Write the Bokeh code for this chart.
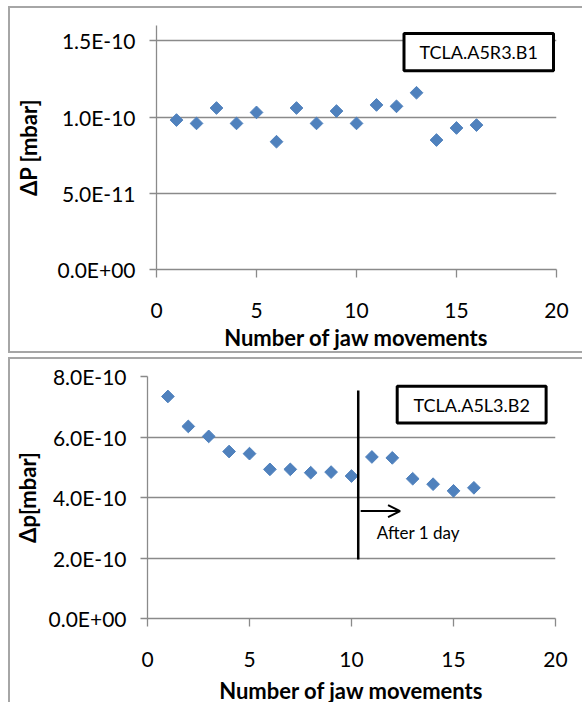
from bokeh.plotting import figure
from bokeh.models import Range1d, FixedTicker, BoxAnnotation, Label, Arrow, OpenHead, Spacer
from bokeh.layouts import column, row
from bokeh.embed import file_html
from bokeh.resources import INLINE

# ---- data ----
moves = list(range(1, 17))
dp_a5r3 = [0.980e-10, 0.958e-10, 1.059e-10, 0.958e-10, 1.030e-10, 0.838e-10,
           1.059e-10, 0.958e-10, 1.039e-10, 0.958e-10, 1.079e-10, 1.070e-10,
           1.159e-10, 0.849e-10, 0.928e-10, 0.947e-10]
dp_a5l3 = [7.34e-10, 6.35e-10, 6.02e-10, 5.52e-10, 5.45e-10, 4.93e-10,
           4.93e-10, 4.82e-10, 4.84e-10, 4.71e-10, 5.34e-10, 5.31e-10,
           4.62e-10, 4.44e-10, 4.22e-10, 4.32e-10]

x_ticks = [0, 5, 10, 15, 20]
y_ticks_top = [0.0, 5e-11, 1e-10, 1.5e-10]
y_labels_top = ["0.0E+00", "5.0E-11", "1.0E-10", "1.5E-10"]
y_ticks_bot = [0.0, 2e-10, 4e-10, 6e-10, 8e-10]
y_labels_bot = ["0.0E+00", "2.0E-10", "4.0E-10", "6.0E-10", "8.0E-10"]

name_top = "TCLA.A5R3.B1"
name_bot = "TCLA.A5L3.B2"
x_title = "Number of jaw movements"
y_title_top = "\u0394P [mbar]"
y_title_bot = "\u0394p[mbar]"
note_text = "After 1 day"

FONT = "Lato"
BLUE = "#4F81BD"
GRID = "#8a8a8a"
PANEL = "#a6a6a6"

_G = "linear-gradient(%s,%s)" % (PANEL, PANEL)
BG_TOP = ("%s left top / 2px 100%% no-repeat, %s left top / 100%% 2px no-repeat, "
          "%s left bottom / 100%% 2px no-repeat" % (_G, _G, _G))
BG_BOT = "%s left top / 2px 100%% no-repeat, %s left top / 100%% 2px no-repeat" % (_G, _G)


def make_panel(xs, ys, y_max, y_ticks, y_labels, y_title, mbl, fw, mbr, mbt, fh, mbb,
               bg, x_lab_standoff, x_title_standoff, y_title_standoff):
    p = figure(frame_width=fw, frame_height=fh,
               min_border_left=mbl, min_border_right=mbr,
               min_border_top=mbt, min_border_bottom=mbb,
               x_range=Range1d(0, 20), y_range=Range1d(0, y_max),
               output_backend="svg", toolbar_location=None, tools="")
    p.border_fill_color = None
    p.background_fill_color = "white"
    p.outline_line_color = None
    p.styles = {"background": bg}

    p.xgrid.visible = False
    p.ygrid.grid_line_color = GRID
    p.ygrid.grid_line_width = 1.3
    p.ygrid.ticker = FixedTicker(ticks=y_ticks)

    xa = p.xaxis[0]
    xa.ticker = FixedTicker(ticks=x_ticks)
    xa.major_tick_out = 8
    xa.major_label_standoff = x_lab_standoff
    xa.axis_label = x_title
    xa.axis_label_standoff = x_title_standoff

    ya = p.yaxis[0]
    ya.ticker = FixedTicker(ticks=y_ticks)
    ya.major_label_overrides = dict(zip(y_ticks, y_labels))
    ya.major_tick_out = 7
    ya.major_label_standoff = 14
    ya.axis_label = y_title
    ya.axis_label_standoff = y_title_standoff

    for ax in (xa, ya):
        ax.axis_line_color = GRID
        ax.axis_line_width = 1.3
        ax.major_tick_line_color = GRID
        ax.major_tick_line_width = 1.3
        ax.major_tick_in = 0
        ax.minor_tick_out = 0
        ax.minor_tick_in = 0
        ax.major_label_text_font = FONT
        ax.major_label_text_font_size = "21px"
        ax.major_label_text_color = "black"
        ax.axis_label_text_font = FONT
        ax.axis_label_text_font_size = "22px"
        ax.axis_label_text_font_style = "bold"
        ax.axis_label_text_color = "black"

    p.scatter(xs, ys, marker="square", angle=0.785398, size=9,
              fill_color=BLUE, line_color=BLUE)
    return p


# top panel (placed at x=8, y=6)
p1 = make_panel(moves, dp_a5r3, 1.6e-10, y_ticks_top, y_labels_top, y_title_top,
                148, 400, 26, 19, 244, 82, BG_TOP, 25, 3, 13)
p1.add_layout(BoxAnnotation(left=12.375, right=19.85, top=1.547e-10, bottom=1.304e-10,
                            fill_color="white", fill_alpha=1.0,
                            line_color="black", line_width=3, line_alpha=1.0))
p1.add_layout(Label(x=16.11, y=1.425e-10, text=name_top, text_align="center",
                    text_baseline="middle", text_font=FONT, text_font_size="18px",
                    text_color="black"))

# bottom panel (placed at x=8, y=355)
p2 = make_panel(moves, dp_a5l3, 8e-10, y_ticks_bot, y_labels_bot, y_title_bot,
                139, 408, 27, 19, 242, 84, BG_BOT, 25, 7, 5)
p2.add_layout(BoxAnnotation(left=12.24, right=19.54, top=7.68e-10, bottom=6.46e-10,
                            fill_color="white", fill_alpha=1.0,
                            line_color="black", line_width=3, line_alpha=1.0))
p2.add_layout(Label(x=15.89, y=7.07e-10, text=name_bot, text_align="center",
                    text_baseline="middle", text_font=FONT, text_font_size="18px",
                    text_color="black"))
p2.segment(x0=[10.33], y0=[1.95e-10], x1=[10.33], y1=[7.54e-10],
           line_color="black", line_width=2.5)
p2.add_layout(Arrow(end=OpenHead(size=12, line_width=2, line_color="black"),
                    x_start=10.45, y_start=3.55e-10, x_end=12.38, y_end=3.55e-10,
                    line_width=2, line_color="black"))
p2.add_layout(Label(x=11.24, y=2.83e-10, text=note_text, text_align="left",
                    text_baseline="middle", text_font=FONT, text_font_size="17px",
                    text_color="black"))

layout = column(
    Spacer(width=582, height=6),
    row(Spacer(width=8, height=345), p1, spacing=0),
    Spacer(width=582, height=4),
    row(Spacer(width=8, height=345), p2, spacing=0),
    spacing=0,
)
open("out.html", "w").write(file_html(layout, INLINE))
